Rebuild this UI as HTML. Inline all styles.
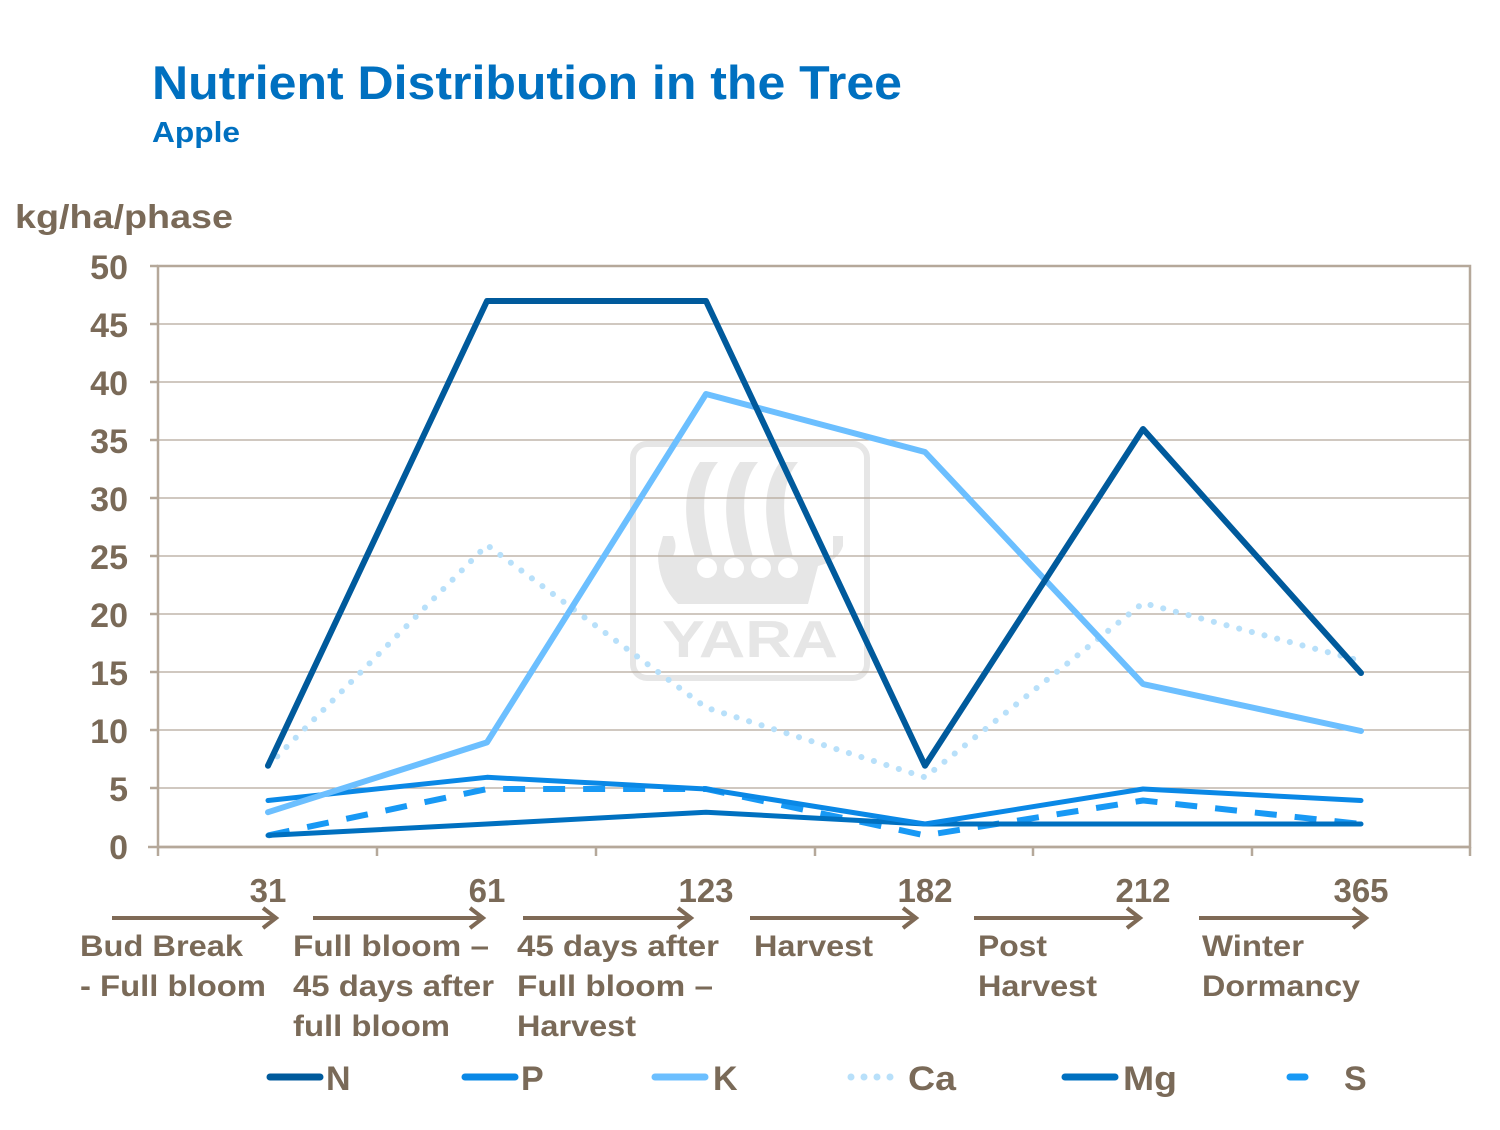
<!DOCTYPE html>
<html><head><meta charset="utf-8"><style>
body{margin:0;background:#fff}
svg text{font-family:"Liberation Sans",Arial,sans-serif;font-weight:bold}
</style></head><body>
<svg width="1500" height="1125" viewBox="0 0 1500 1125" xmlns="http://www.w3.org/2000/svg">
<text x="152" y="99" font-size="47" fill="#0070c0" textLength="750" lengthAdjust="spacingAndGlyphs">Nutrient Distribution in the Tree</text>
<text x="152" y="142" font-size="29" fill="#0070c0" textLength="88" lengthAdjust="spacingAndGlyphs">Apple</text>
<text x="15" y="228" font-size="33" fill="#7a6a58" textLength="218" lengthAdjust="spacingAndGlyphs">kg/ha/phase</text>
<!-- watermark -->
<g fill="#e6e6e6" stroke="none">
<rect x="633" y="444" width="234" height="234" rx="14" fill="none" stroke="#e6e6e6" stroke-width="6"/>
<path d="M700 462 h18 q-25 30 -5 95 h-18 q-20 -60 5 -95z"/>
<path d="M740 462 h18 q-25 30 -5 95 h-18 q-20 -60 5 -95z"/>
<path d="M780 462 h18 q-25 30 -5 95 h-18 q-20 -60 5 -95z"/>
<path d="M663 536 h10 q5 10 0 20 h160 v-20 h10 v10 q-5 15 -25 20 l-10 38 h-130 q-20 -20 -20 -50z"/>
<text x="750" y="657" font-size="52" text-anchor="middle" fill="#e6e6e6" textLength="176" lengthAdjust="spacingAndGlyphs">YARA</text>
</g>
<g fill="#fff"><circle cx="707" cy="568" r="10"/><circle cx="734" cy="568" r="10"/><circle cx="761" cy="568" r="10"/><circle cx="788" cy="568" r="10"/></g>
<!-- grid -->
<g stroke="#b5a89a" stroke-width="1.3">
<line x1="158" y1="324" x2="1470" y2="324"/>
<line x1="158" y1="382" x2="1470" y2="382"/><line x1="158" y1="440" x2="1470" y2="440"/>
<line x1="158" y1="498" x2="1470" y2="498"/><line x1="158" y1="556" x2="1470" y2="556"/>
<line x1="158" y1="614" x2="1470" y2="614"/><line x1="158" y1="672" x2="1470" y2="672"/>
<line x1="158" y1="730" x2="1470" y2="730"/><line x1="158" y1="788" x2="1470" y2="788"/>
</g>
<g stroke="#b5a89a" stroke-width="2.5" fill="none">
<rect x="158" y="266" width="1312" height="581"/>
<line x1="148" y1="847" x2="1470" y2="847"/>
<line x1="150" y1="266" x2="158" y2="266"/><line x1="150" y1="324" x2="158" y2="324"/><line x1="150" y1="382" x2="158" y2="382"/><line x1="150" y1="440" x2="158" y2="440"/><line x1="150" y1="498" x2="158" y2="498"/><line x1="150" y1="556" x2="158" y2="556"/><line x1="150" y1="614" x2="158" y2="614"/><line x1="150" y1="672" x2="158" y2="672"/><line x1="150" y1="730" x2="158" y2="730"/><line x1="150" y1="788" x2="158" y2="788"/>
<line x1="158" y1="847" x2="158" y2="856"/><line x1="377" y1="847" x2="377" y2="856"/><line x1="596" y1="847" x2="596" y2="856"/><line x1="815" y1="847" x2="815" y2="856"/><line x1="1033" y1="847" x2="1033" y2="856"/><line x1="1252" y1="847" x2="1252" y2="856"/><line x1="1470" y1="847" x2="1470" y2="856"/>
</g>
<g font-size="34" fill="#7a6a58" text-anchor="end">
<text x="128" y="279">50</text><text x="128" y="337">45</text><text x="128" y="395">40</text><text x="128" y="453">35</text><text x="128" y="511">30</text><text x="128" y="569">25</text><text x="128" y="627">20</text><text x="128" y="685">15</text><text x="128" y="743">10</text><text x="128" y="801">5</text><text x="128" y="859">0</text>
</g>
<g font-size="33" fill="#7a6a58" text-anchor="middle">
<text x="268" y="902">31</text><text x="487" y="902">61</text><text x="706" y="902">123</text><text x="925" y="902">182</text><text x="1143" y="902">212</text><text x="1361" y="902">365</text>
</g>
<!-- arrows -->
<g stroke="#7f6a56" stroke-width="4" fill="none">
<path d="M112 918 H275 M263 908 L276 918 L263 928"/>
<path d="M313 918 H482 M470 908 L483 918 L470 928"/>
<path d="M523 918 H690 M678 908 L691 918 L678 928"/>
<path d="M750 918 H915 M903 908 L916 918 L903 928"/>
<path d="M974 918 H1139 M1127 908 L1140 918 L1127 928"/>
<path d="M1199 918 H1365 M1353 908 L1366 918 L1353 928"/>
</g>
<g font-size="30" fill="#7a6a58" lengthAdjust="spacingAndGlyphs">
<text x="80" y="956" textLength="163" lengthAdjust="spacingAndGlyphs">Bud Break</text><text x="80" y="996" textLength="186" lengthAdjust="spacingAndGlyphs">- Full bloom</text>
<text x="293" y="956" textLength="196" lengthAdjust="spacingAndGlyphs">Full bloom –</text><text x="293" y="996" textLength="201" lengthAdjust="spacingAndGlyphs">45 days after</text><text x="293" y="1036" textLength="157" lengthAdjust="spacingAndGlyphs">full bloom</text>
<text x="517" y="956" textLength="202" lengthAdjust="spacingAndGlyphs">45 days after</text><text x="517" y="996" textLength="196" lengthAdjust="spacingAndGlyphs">Full bloom –</text><text x="517" y="1036" textLength="119" lengthAdjust="spacingAndGlyphs">Harvest</text>
<text x="754" y="956" textLength="119" lengthAdjust="spacingAndGlyphs">Harvest</text>
<text x="978" y="956" textLength="69" lengthAdjust="spacingAndGlyphs">Post</text><text x="978" y="996" textLength="119" lengthAdjust="spacingAndGlyphs">Harvest</text>
<text x="1202" y="956" textLength="102" lengthAdjust="spacingAndGlyphs">Winter</text><text x="1202" y="996" textLength="158" lengthAdjust="spacingAndGlyphs">Dormancy</text>
</g>
<!-- series -->
<g fill="none" stroke-linejoin="round" stroke-linecap="round">
<polyline stroke="#b8e0fa" stroke-width="6" stroke-dasharray="0.1 13" points="268,765.7 487,545 706,707.6 925,777.3 1143,603 1361,661"/>
<polyline stroke="#1899f5" stroke-width="6" stroke-dasharray="22 18" stroke-linecap="butt" points="268,835.4 487,789 706,789 925,835.4 1143,800.5 1361,824"/>
<polyline stroke="#0070c0" stroke-width="5" points="268,835.4 487,824 706,812.2 925,824 1143,824 1361,824"/>
<polyline stroke="#0a88e6" stroke-width="5" points="268,800.5 487,777.3 706,789 925,824 1143,789 1361,800.5"/>
<polyline stroke="#6cbfff" stroke-width="6" points="268,812.2 487,742.4 706,394 925,452 1143,684 1361,731"/>
<polyline stroke="#005a9c" stroke-width="6" points="268,765.7 487,301 706,301 925,765.7 1143,429 1361,673"/>
</g>
<!-- legend -->
<g stroke-width="7" stroke-linecap="round">
<line x1="270" y1="1077" x2="320" y2="1077" stroke="#005a9c"/>
<line x1="465" y1="1077" x2="515" y2="1077" stroke="#0a88e6"/>
<line x1="655" y1="1077" x2="705" y2="1077" stroke="#6cbfff"/>
<line x1="1065" y1="1077" x2="1115" y2="1077" stroke="#0070c0"/>
<line x1="1290" y1="1077" x2="1305" y2="1077" stroke="#1899f5"/>
</g>
<g fill="#b8e0fa"><circle cx="851" cy="1077" r="3.5"/><circle cx="864" cy="1077" r="3.5"/><circle cx="877" cy="1077" r="3.5"/><circle cx="890" cy="1077" r="3.5"/></g>
<g font-size="34" fill="#7a6a58">
<text x="326" y="1090">N</text><text x="521" y="1090">P</text><text x="713" y="1090">K</text><text x="908" y="1090" textLength="48" lengthAdjust="spacingAndGlyphs">Ca</text><text x="1123" y="1090" textLength="54" lengthAdjust="spacingAndGlyphs">Mg</text><text x="1344" y="1090">S</text>
</g>
</svg>
</body></html>
